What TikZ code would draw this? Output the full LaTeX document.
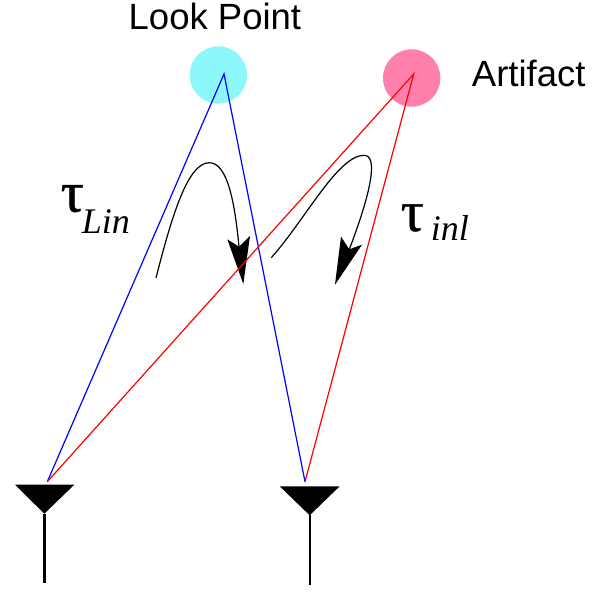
\documentclass[tikz,border=0pt]{standalone}
\usepackage{fontspec}
\setmainfont{Liberation Sans}
\newfontfamily\timesfam{Liberation Serif}
\newfontfamily\taufam[FakeBold=0.7]{Liberation Serif}
\definecolor{lookc}{HTML}{8CF8FC}
\definecolor{artc}{HTML}{FF80AC}
\tikzset{
  target/.style={circle,inner sep=0pt,minimum size=57.4pt},
  lab/.style={inner sep=0pt,anchor=base west,font=\fontsize{36.5}{36.5}\selectfont},
  taulab/.style={inner sep=0pt,anchor=base west,font=\taufam\fontsize{58}{58}\selectfont},
  sublab/.style={inner sep=0pt,anchor=base west,font=\timesfam\itshape\fontsize{36}{36}\selectfont},
  ray/.style={line width=1.2pt},
  curve/.style={line width=1.2pt,black},
  stem/.style={line width=2.4pt,black},
}
\begin{document}
\begin{tikzpicture}[x=1pt,y=-1pt]
\useasboundingbox (0,0) rectangle (607,593);
\node[target,fill=lookc] (look) at (218.3,75) {};
\node[target,fill=artc] (art) at (411.7,78) {};
\node[lab] (looklab) at (128.5,30) {Look Point};
\node[lab] (artlab) at (471.7,86.7) {Artifact};
\node[taulab] (tau1) at (60.5,211.7) {τ};
\node[sublab] (lin) at (81.7,233.3) {Lin};
\node[taulab] (tau2) at (400.5,231) {τ};
\node[sublab] (inl) at (430.7,240.7) {inl};
\coordinate (pb) at (224,74);
\coordinate (pr) at (413.7,74);
\coordinate (al) at (47.3,481.7);
\coordinate (ar) at (305,481.7);
% curved arrows
\coordinate (c1s) at (156,278);
\coordinate (c1p) at (209.3,162.7);
\coordinate (c1n) at (239,246.7);
\coordinate (c2s) at (271.3,257.7);
\coordinate (c2p) at (364,155.3);
\coordinate (c2n) at (349.3,249.3);
\draw[curve] (c1s) .. controls (172,215) and (188,162.7) .. (c1p) .. controls (228,162.7) and (235,205) .. (c1n);
\fill (243.3,284) -- (227.3,239.3) -- (c1n) -- (250,236) -- cycle;
\draw[curve] (c2s) .. controls (305,220) and (338,155.3) .. (c2p) .. controls (378,155.3) and (372,190) .. (c2n);
\fill (335,284.7) -- (341,236.7) -- (c2n) -- (362,244.7) -- cycle;
% antennas
\fill (15,484.7) -- (74.3,484.7) -- (44.3,513.7) coordinate (t1b) -- cycle;
\draw[stem] (t1b) -- (44.3,583.3);
\fill (279.7,486.3) -- (339.7,486.3) -- (309.7,515.3) coordinate (t2b) -- cycle;
\draw[stem] (t2b) -- (309.7,585.3);
% rays
\draw[ray,blue] (al) -- (pb) -- (ar);
\draw[ray,red] (al) -- (pr) -- (ar);
\end{tikzpicture}
\end{document}
